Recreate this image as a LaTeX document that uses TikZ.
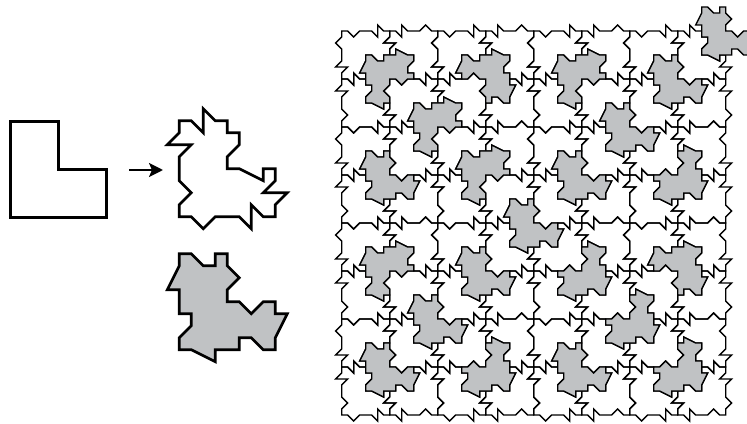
\documentclass[tikz,border=0pt]{standalone}
\usepackage{tikz}
\usetikzlibrary{arrows.meta}
\definecolor{tilegray}{RGB}{192,194,196}

\begin{document}
\begin{tikzpicture}[
    x=0.02cm, y=0.02cm,
    bigline/.style={line width=1.5pt, black},
    smallline/.style={line width=0.78pt, black},
    arr/.style={-{Stealth[length=2.8mm, width=2.8mm, inset=0.6mm]}, line width=1.2pt},
    whitetile/.pic={
        \draw[pic actions] (-4,4) -- (-3,4) -- (-2,3) -- (-2,5) -- (-1,4) -- (0,4) -- (0,3) -- (1,3) -- (1,2) -- (0,1)
            -- (0,0) -- (1,0) -- (3,-1) -- (3,0) -- (4,0) -- (4,-1) -- (3,-2) -- (5,-2) -- (4,-3) -- (4,-4)
            -- (3,-4) -- (2,-3) -- (2,-5) -- (1,-4) -- (-1,-4) -- (-2,-5) -- (-3,-4) -- (-4,-4) -- (-4,-3)
            -- (-3,-2) -- (-4,-1) -- (-4,1) -- (-3,2) -- (-5,2) -- (-4,3) -- cycle;
    },
    graytile/.pic={
        \draw[pic actions, fill=tilegray] (-4,4) -- (-3,4) -- (-2,3) -- (-1,3) -- (-1,4) -- (0,4) -- (0,3) -- (1,2) -- (0,1)
            -- (0,0) -- (1,0) -- (2,-1) -- (3,0) -- (4,0) -- (4,-1) -- (5,-1) -- (4,-3) -- (4,-4)
            -- (3,-4) -- (2,-3) -- (1,-3) -- (1,-4) -- (-1,-4) -- (-1,-5) -- (-3,-4) -- (-4,-4) -- (-4,-3)
            -- (-3,-2) -- (-3,-1) -- (-4,-1) -- (-4,1) -- (-5,1) -- (-4,3) -- cycle;
    },
]
\useasboundingbox (0,0) rectangle (747,423);

% Left column: plain L, arrow, the two notched versions
\draw[bigline] (10.3,301.3) -- (58.3,301.3) -- (58.3,253.3) -- (106.3,253.3) -- (106.3,205.3) -- (10.3,205.3) -- cycle;

\coordinate (arrowstart) at (129,253);
\coordinate (arrowend) at (163,253);
\draw[arr] (arrowstart) -- (arrowend);

\pic[bigline, scale=12] at (227.3,254.3) {whitetile};
\pic[bigline, scale=12] at (227.3,121.3) {graytile};

% Right: the square, cell/row/angle of each tile
\begin{scope}[shift={(341.7,392)}]
\foreach \c/\r/\a in {
    1/1/270, 3/1/180, 5/1/270, 7/1/180, 9/1/270, 11/1/180, 13/1/270, 15/1/0,
    1/3/0, 3/3/270, 5/3/180, 7/3/90, 9/3/0, 11/3/270, 13/3/0, 15/3/90,
    1/5/270, 3/5/0, 5/5/270, 7/5/180, 9/5/270, 11/5/0, 13/5/90, 15/5/180,
    1/7/0, 3/7/90, 5/7/0, 7/7/270, 9/7/0, 11/7/90, 13/7/0, 15/7/90,
    1/9/270, 3/9/180, 5/9/270, 7/9/0, 9/9/90, 11/9/180, 13/9/270, 15/9/180,
    1/11/0, 3/11/270, 5/11/0, 7/11/90, 9/11/0, 11/11/90, 13/11/180, 15/11/90,
    1/13/270, 3/13/0, 5/13/90, 7/13/180, 9/13/270, 11/13/0, 13/13/90, 15/13/180,
    1/15/0, 3/15/90, 5/15/0, 7/15/90, 9/15/0, 11/15/90, 13/15/0, 15/15/90} {
    \pic[smallline, rotate=\a, scale=6] at ({24*\c},{-24*\r}) {whitetile};
}
\foreach \c/\r/\a in {
    8/8/0, 4/4/270, 12/4/0, 4/12/0, 12/12/90,
    2/2/270, 6/2/180, 2/6/0, 6/6/270,
    10/2/270, 14/2/0, 10/6/0, 14/6/90,
    2/10/270, 6/10/0, 2/14/0, 6/14/90,
    10/10/90, 14/10/180, 10/14/0, 14/14/90,
    16/0/0} {
    \pic[smallline, rotate=\a, scale=6] at ({24*\c},{-24*\r}) {graytile};
}
\end{scope}

\end{tikzpicture}
\end{document}
